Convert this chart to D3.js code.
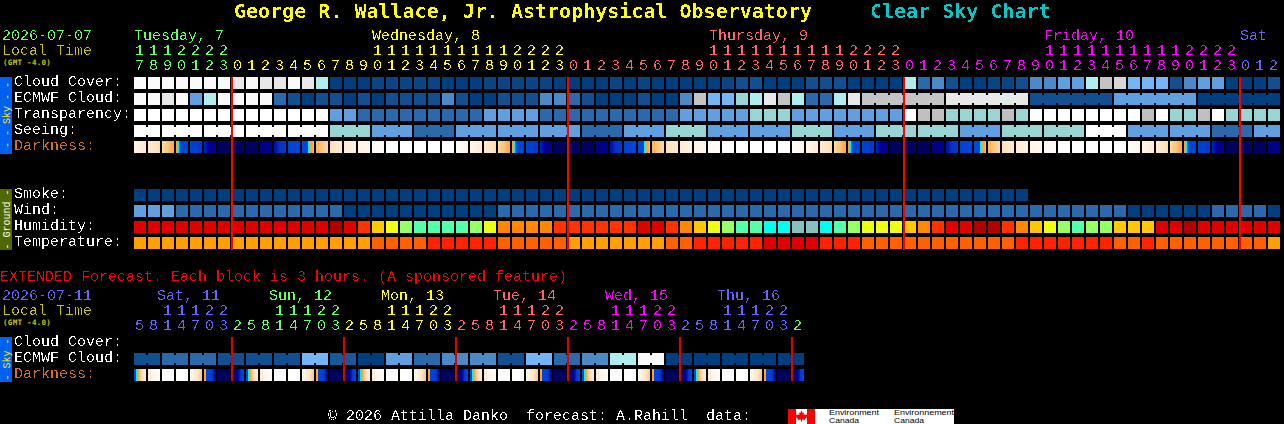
<!DOCTYPE html>
<html><head><meta charset="utf-8">
<script src="https://cdn.jsdelivr.net/npm/d3@7/dist/d3.min.js"></script>
<style>html,body{margin:0;padding:0;background:#000;overflow:hidden}svg{display:block}</style>
</head><body>
<script>
// ---------- data ----------
const startHour = 17;
const midnightCols = [7, 31, 55, 79];
const extMidnightCols = [7, 15, 23, 31, 39, 47];
const dayColors = ["#66ff66", "#ffff00", "#ff6666", "#ff00ff", "#6666ff"];
const dayLabels = [["Tuesday, 7", 134, 0], ["Wednesday, 8", 372, 1], ["Thursday, 9", 709, 2], ["Friday, 10", 1044, 3], ["Sat", 1240, 4]];
const extHours = [5, 8, 11, 14, 17, 20, 23, 2];
const extDayColors = ["#6666ff", "#66ff66", "#ffff00", "#ff6666", "#ff00ff", "#6666ff", "#66ff66"];
const extDayLabels = [["Sat, 11", 157, 0], ["Sun, 12", 269, 1], ["Mon, 13", 381, 2], ["Tue, 14", 493, 3], ["Wed, 15", 605, 4], ["Thu, 16", 717, 5]];

const cloudCover = [100,100,100,100,100,100,100,90,100,90,90,100,90,70,
  0,0,0,5,5,5,5,5, 0,0,0,5,5,5,5,5,0,0,0,0,5,0,5,0,0,0,0,0,
  5,10,10,0,0,0,10,10,10,0, 0,0,0,70,20,30,10,0,0,5,5,10,30,30,40,40,70,80,85,50,50,50,10,30,40,40,0,0,0,10];
const ecmwfCloud = [100,100,90,100,40,70,100,100,100,100,
  20,10,0,10,10,0,10,0,10,10,
  10,10,30,10,0,0,10,10,10,30,
  30,20,10,0,0,0,10,0,0,30,
  80,50,50,60,70,90,80,70,20,20,
  70,90,80,80,80,80,80,80,90,90,
  90,90,90,90,10,10,10,10,10,10,
  40,40,40,40,40,40,0,0,0,0,0,0];
const transparency = [105,105,105,105,105,105,105,105,105,105,105,105,105,105,
  40,40,20,20,20,20,20,20,20,20,20,40,40,40,40,20,20,20,20,20,20,20,20,20,20,
  40,40,40,40,40,60,60,60,40,40,40,40,40,40,40,40,
  105,82,82,60,60,60,60,82,60,105,105,105,105,105,105,105,105,82,105,60,60,82,105,60,60,60,60];
const seeing = [105,105, 105,105,105, 105,105,105, 105,105,105, 105,105,105,
  60,60,60, 40,40,40, 20,20,20, 40,40,40, 40,40,40, 40,40,40, 20,20,20, 40,40,40,
  60,60,60, 40,40,40, 40,40,40, 60,60,60, 40,40,40, 60,60,60, 60,60,60, 40,40,40,
  60,60,60, 60,60,60, 105,105,105, 40,40,40, 40,40,40, 20,20,20, 40,40];
const smoke = [0,0,0,0,0,0,0,0,0,0,0,0,0,0,0,0,0,0,0,0,0,0,0,0,0,0,0,0,0,0,0,0,
  0,0,0,0,0,0,0,0,0,0,0,0,0,0,0,0,0,0,0,0,0,0,0,0,0,0,0,0,0,0,0,0];
const wind = [40,40,40,20,20,20,20,20,20,20,20,20,20,20,20,
  0,0,0,0,0,0,0,0,0,0,0,
  20,20,20,20,20,
  20,20,20,20,20,
  20,20,20,20,20,
  20,20,20,20,20,
  20,20,20,20,20,
  20,20,20,20,20,
  20,20,20,20,20,
  20,20,20,20,20,
  20,20,20,20,20,
  0,0,0,0,0,0,20,20,20,20,0];
const humidity = [90,90,90,90,90,90,90,90,90,90,90,90,90,90,100,90,80,70,65,60,55,
  55,55,55,60,65,75,75,75,75,80,80,80,80,80,80,90,90,80,75,70,65,60,55,55,50,50,45,45,50,55,60,
  65,65,65,70,75,80,90,90,100,100,80,75,70,65,60,55,60,60,70,70,70,90,90,100,90,90,90,90,90,90];
const temperature = [30,30,30,30,30,30,30,30,30,30,30,30,30,30,30,30,30,28,28,28,28,
  26,26,26,26,26,28,28,28,28,28,30,30,30,30,30,30,30,28,28,26,26,26,26,26,24,24,24,24,26,26,26,
  28,28,28,28,28,28,28,28,28,28,28,26,26,26,26,26,26,26,28,28,26,28,28,28,28,28,28,28,28,30];
// darkness: samples across each hour block, day sequence begins at 17h
const darkDay = [[.9,1.5],[1.5,2.1],[2.1,2.9],[3,3.5,3.5,4.2,4.4,4.5,4.5,4.6,4.6,4.7,4.7,4.7],[4.7,4.9],[5.2,5.6,5.8],[6,6],[6,6],[6,6],[5.7,5.7],[5.4,5,4.9],[4.7,4.5],
  [4.5,4.5,4.5,4.5,4.5,4.5,3.5,3,3,2.9,2.8,2.7],[2.7,2.2],[2,1.5],[1.5,1.1],[1,.6],[.5,.1],[0,0],[0,0],[0,0],[0,0],[0,0],[.2,.9]];
const darkFriTail = [[.9,1.5],[1.5,2.1],[2.1,2.9],[3,3.5,3.5,4.2,4.4,4.5,4.5,4.6,4.6,4.7,4.7,4.7],[4.7,4.9],[5.2,5.6,5.8],[6,6],[6,6],[6,6],[5.7,5.7]];
const extEcmwf = [10,20,20,10,10,10,50,15,0,40,20,30,30,10,50,20,30,70,100,0,0,0,0,0];
const extDarkDay = [[4.5,4.5,3.5,3,3,2.6,2.4,2.2,2,1.8,1.6,1.5],[1.4,.3],[0,0],[0,0],[.8,2.4],[3,3,4.6,4.6,4.7,4.7,4.8,4.9,5,5.2,5.4,5.6],[6,6],[6,6,6,6,5.8,5.6,5.4,5.2,5,4.8,4.6,4.5]];
const cloudLevels = [0,5,10,15,20,30,40,50,60,70,80,82,85,90,100,105];
const cloudColors = ["#003f7f","#084585","#124f91","#175a9c","#2a69ab","#4a8ac8","#60a0e0","#75b5f5","#98d5d5","#aeeeee","#c4c4c4","#c0c0c0","#d8d8d8","#e8e8e8","#fafafa","#ffffff"];
const humLevels = [45,50,55,60,65,70,75,80,90,100];
const humColors = ["#88c0c0","#00ffee","#55ffaa","#99ff66","#eeff11","#ffc800","#ff8800","#ff3300","#e00000","#b00000"];
const tempLevels = [24,26,28,30];
const tempColors = ["#e00000","#ff2200","#ff6000","#ffa000"];
const darkDomain = [0,1,2,3,3.5,4,4.5,5,5.5,6];
const darkRange = ["#ffffff","#fff4e6","#ffe2bc","#ffa030","#00f0ff","#0088e8","#0048d8","#0038c8","#0000a0","#000060"];
const footer = "© 2026 Attilla Danko  forecast: A.Rahill  data:";
// ---------- scales ----------
const W = 1284, H = 424, PITCH = 14, BW = 12, BH = 12;
const x = d3.scaleLinear().domain([0, 82]).range([134, 134 + 82 * PITCH]);
const yMain = d3.scalePoint().domain(["Cloud Cover:","ECMWF Cloud:","Transparency:","Seeing:","Darkness:"]).range([77, 141]);
const yGround = d3.scalePoint().domain(["Smoke:","Wind:","Humidity:","Temperature:"]).range([189, 237]);
const yExt = d3.scalePoint().domain(["Cloud Cover:","ECMWF Cloud:","Darkness:"]).range([337, 369]);
const cloudScale = d3.scaleOrdinal(cloudLevels, cloudColors);
const humScale = d3.scaleOrdinal(humLevels, humColors);
const tempScale = d3.scaleOrdinal(tempLevels, tempColors);
const darkScale = d3.scaleLinear().domain(darkDomain).range(darkRange).interpolate(d3.interpolateRgb);

const svg = d3.select("body").append("svg").attr("width", W).attr("height", H).attr("viewBox", `0 0 ${W} ${H}`);
const flt = svg.append("defs").append("filter").attr("id", "px").attr("filterUnits", "userSpaceOnUse")
  .attr("x", 0).attr("y", 0).attr("width", W).attr("height", H).attr("color-interpolation-filters", "sRGB");
flt.append("feComponentTransfer").append("feFuncA").attr("type", "discrete").attr("tableValues", "0 0 0 1 1");

const blocks = svg.append("g").attr("shape-rendering", "crispEdges");
const textG = svg.append("g").attr("filter", "url(#px)");
const FONT = "'Liberation Mono','DejaVu Sans Mono',monospace";
function label(g, s, px, py, col, size, opt) {
  opt = opt || {};
  const t = g.append("text").attr("x", px).attr("y", py).attr("fill", col).text(s)
    .attr("font-family", opt.family || FONT).attr("font-size", size).style("white-space", "pre");
  if (opt.weight) t.attr("font-weight", opt.weight);
  if (opt.anchor) t.attr("text-anchor", opt.anchor);
  if (opt.spacing) t.attr("letter-spacing", opt.spacing);
  return t;
}
function row(values, y, color, groupOf) {
  const g = blocks.append("g");
  g.selectAll("rect.b").data(values).join("rect").attr("class", "b")
    .attr("x", (d, i) => x(i)).attr("y", y).attr("width", BW).attr("height", BH).attr("fill", d => color(d));
  if (groupOf) {
    const links = values.map((d, i) => i).filter(i => i + 1 < values.length && groupOf(i) !== null && groupOf(i) === groupOf(i + 1));
    g.selectAll("rect.l").data(links).join("rect").attr("class", "l")
      .attr("x", i => x(i) + BW).attr("y", y + 2).attr("width", PITCH - BW).attr("height", BH - 4).attr("fill", i => color(values[i]));
  }
}
function darkRow(list, y) {
  const g = blocks.append("g");
  const pxs = d3.range(BW);
  list.forEach((samples, i) => {
    const v = d3.scaleLinear().domain(samples.map((s, k) => k * (BW - 1) / (samples.length - 1))).range(samples);
    g.append("g").selectAll("rect").data(pxs).join("rect")
      .attr("x", p => x(i) + p).attr("y", y).attr("width", 1).attr("height", BH)
      .attr("fill", p => darkScale(v(p)));
  });
}
// ---------- main sky ----------
row(cloudCover, yMain("Cloud Cover:"), cloudScale);
row(ecmwfCloud, yMain("ECMWF Cloud:"), cloudScale, i => i >= 52 ? Math.floor((i - 52) / 6) : null);
row(transparency, yMain("Transparency:"), cloudScale);
row(seeing, yMain("Seeing:"), cloudScale, i => Math.floor((i + 1) / 3));
darkRow([...darkDay, ...darkDay, ...darkDay, ...darkFriTail], yMain("Darkness:"));
// ---------- ground ----------
row(smoke, yGround("Smoke:"), cloudScale);
row(wind, yGround("Wind:"), cloudScale);
row(humidity, yGround("Humidity:"), humScale);
row(temperature, yGround("Temperature:"), tempScale);
// ---------- extended ----------
row(extEcmwf.flatMap(d => [d, d]), yExt("ECMWF Cloud:"), cloudScale, i => Math.floor(i / 2));
darkRow([...extDarkDay, ...extDarkDay, ...extDarkDay, ...extDarkDay, ...extDarkDay, ...extDarkDay], yExt("Darkness:"));
// red midnight lines
blocks.selectAll("rect.m").data(midnightCols).join("rect").attr("class", "m")
  .attr("x", c => x(c) - 1).attr("y", 77).attr("width", 2).attr("height", 173).attr("fill", "#ff0000");
blocks.selectAll("rect.e").data(extMidnightCols).join("rect").attr("class", "e")
  .attr("x", c => x(c) - 1).attr("y", 337).attr("width", 2).attr("height", 44).attr("fill", "#e00000");
// side bars
blocks.append("rect").attr("x", 0).attr("y", 77).attr("width", 12).attr("height", 77).attr("fill", "#0060f0");
blocks.append("rect").attr("x", 0).attr("y", 189).attr("width", 12).attr("height", 61).attr("fill", "#506800");
blocks.append("rect").attr("x", 0).attr("y", 337).attr("width", 12).attr("height", 45).attr("fill", "#0060f0");
[["- - Sky - -", 115, "#ffee00"], ["- Ground -", 219.5, "#ffffff"], ["- Sky -", 359.5, "#ffee00"]].forEach(([s, cy, col]) => {
  label(svg, s, 0, 0, col, 10, { anchor: "middle" }).attr("transform", `translate(10,${cy}) rotate(-90)`);
});
// ---------- text ----------
const BIG = { family: "'DejaVu Sans Mono',monospace", weight: "bold" };
const SMALL = { family: "'DejaVu Sans Mono',monospace", weight: "bold", spacing: 0.3 };
label(textG, "George R. Wallace, Jr. Astrophysical Observatory", 234, 18, "#ffff00", 20, BIG);
label(textG, "Clear Sky Chart", 870, 18, "#00c8c8", 20, BIG);
label(textG, "2026-07-07", 2, 40, "#66ff66", 15);
label(textG, "Local Time", 2, 55, "#c8c800", 15);
label(svg, "(GMT -4.0)", 3, 65, "#c8c800", 7.5, SMALL);
dayLabels.forEach(([s, px, c]) => label(textG, s, px, 40, dayColors[c], 15));
const hourColor = i => { const n = i - 7; return n < 0 ? dayColors[0] : dayColors[1 + Math.floor(n / 24)]; };
d3.range(82).forEach(i => {
  const h = (startHour + i) % 24;
  if (h >= 10) label(textG, String(Math.floor(h / 10)), x(i) + 1, 55, hourColor(i), 15);
  label(textG, String(h % 10), x(i) + 1, 70, hourColor(i), 15);
});
yMain.domain().forEach(s => label(textG, s, 14, yMain(s) + 9, s === "Darkness:" ? "#d07030" : "#ffffff", 15));
yGround.domain().forEach(s => label(textG, s, 14, yGround(s) + 9, "#ffffff", 15));
label(textG, "EXTENDED Forecast. Each block is 3 hours. (A sponsored feature)", 0, 281, "#ff0000", 15);
label(textG, "2026-07-11", 2, 300, "#6666ff", 15);
label(textG, "Local Time", 2, 315, "#c8c800", 15);
label(svg, "(GMT -4.0)", 3, 325, "#c8c800", 7.5, SMALL);
extDayLabels.forEach(([s, px, c]) => label(textG, s, px, 300, extDayColors[c], 15));
d3.range(48).forEach(i => {
  const h = extHours[i % 8], col = extDayColors[Math.floor((i + 1) / 8)];
  if (h >= 10) label(textG, String(Math.floor(h / 10)), x(i) + 1, 315, col, 15);
  label(textG, String(h % 10), x(i) + 1, 330, col, 15);
});
yExt.domain().forEach(s => label(textG, s, 14, yExt(s) + 9, s === "Darkness:" ? "#d07030" : "#ffffff", 15));
label(textG, footer, 328, 420, "#ffffff", 15);
// ---------- credit logo ----------
const logo = svg.append("g");
logo.append("rect").attr("x", 788).attr("y", 409).attr("width", 166).attr("height", 15).attr("fill", "#ffffff").attr("shape-rendering", "crispEdges");
logo.append("rect").attr("x", 788).attr("y", 409).attr("width", 8).attr("height", 15).attr("fill", "#ff0000").attr("shape-rendering", "crispEdges");
logo.append("rect").attr("x", 807).attr("y", 409).attr("width", 8).attr("height", 15).attr("fill", "#ff0000").attr("shape-rendering", "crispEdges");
logo.append("path").attr("d", "M801.5 410.5l1.3 2.4 1.2-.6-.5 2.8 1.6-1.2.4 1 1.8-.3-.6 1.8.8.5-2.6 2-.1 1.1-2.8-.4v2h-1v-2l-2.8.4-.1-1.1-2.6-2 .8-.5-.6-1.8 1.8.3.4-1 1.6 1.2-.5-2.8 1.2.6z").attr("fill", "#ff0000");
[[829, 50, "Environment"], [894, 60, "Environnement"]].forEach(([px, w, s]) => {
  label(logo, s, px, 415, "#000000", 7, { family: "'Liberation Sans',sans-serif" }).attr("textLength", w).attr("lengthAdjust", "spacingAndGlyphs");
  label(logo, "Canada", px, 423, "#000000", 7, { family: "'Liberation Sans',sans-serif" }).attr("textLength", 30).attr("lengthAdjust", "spacingAndGlyphs");
});
</script>
</body></html>
